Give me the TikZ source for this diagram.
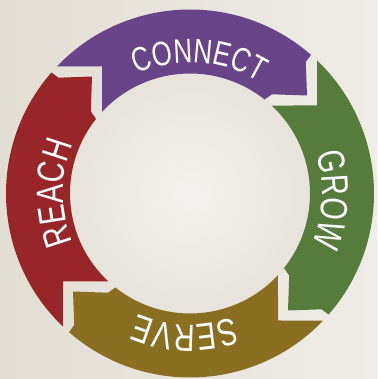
\documentclass[tikz,border=0pt]{standalone}
\usepackage{fontspec}
\newfontfamily\ringfont[FakeStretch=0.76,LetterSpace=6]{Liberation Sans}
\usetikzlibrary{decorations.text}
\definecolor{cpurple}{HTML}{684589}
\definecolor{cgreen}{HTML}{567B3A}
\definecolor{colive}{HTML}{8A6F22}
\definecolor{cred}{HTML}{982527}
\definecolor{bgL}{HTML}{E2DED4}
\definecolor{bgR}{HTML}{EFECE7}
\definecolor{bgC}{HTML}{F4F1EE}
\tikzset{
  ringtext/.style n args={2}{decorate, decoration={text along path, text align=center, text color=white,
     text={|\ringfont\fontsize{#1}{#1}\selectfont|#2}}}
}
\begin{document}
\begin{tikzpicture}[x=1pt,y=1pt]
\useasboundingbox (0,0) rectangle (377,379);
\shade[left color=bgL, right color=bgR] (0,0) rectangle (377,379);
\begin{scope}[shift={(190,185.5)}]
  \shade[inner color=bgC, outer color=bgL!60!bgR] (0,0) circle (121);
  \foreach \k/\c in {0/cpurple,1/cgreen,2/colive,3/cred}{
    \fill[\c, rotate=-90*\k] (136.34:184) arc[start angle=136.34, end angle=48.88, radius=184]
      -- (115.8,131.5) -- (117,98) -- (82,99.2) -- (51.56:120)
      arc[start angle=51.56, end angle=137.16, radius=120] -- (-88,127) -- cycle;
  }
  \path[ringtext={34}{CONNECT}] (150:131) arc[start angle=150, end angle=22, radius=131];
  \path[ringtext={38}{GROW}] (60:132) arc[start angle=60, end angle=-65, radius=132];
  \path[ringtext={38}{SERVE}] (-30:131.5) arc[start angle=-30, end angle=-154, radius=131.5];
  \path[ringtext={38}{REACH}] (240:127) arc[start angle=240, end angle=120, radius=127];
\end{scope}
\end{tikzpicture}
\end{document}
